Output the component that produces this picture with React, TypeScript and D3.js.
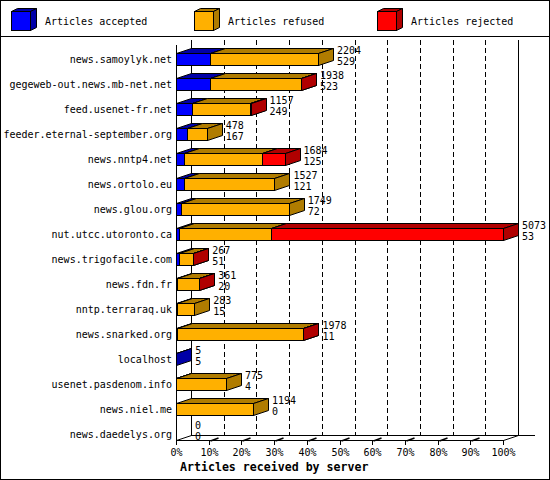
import * as d3 from "d3";

const servers = [
  "news.samoylyk.net",
  "gegeweb-out.news.mb-net.net",
  "feed.usenet-fr.net",
  "feeder.eternal-september.org",
  "news.nntp4.net",
  "news.ortolo.eu",
  "news.glou.org",
  "nut.utcc.utoronto.ca",
  "news.trigofacile.com",
  "news.fdn.fr",
  "nntp.terraraq.uk",
  "news.snarked.org",
  "localhost",
  "usenet.pasdenom.info",
  "news.niel.me",
  "news.daedelys.org",
];
const totals = [2204, 1938, 1157, 478, 1684, 1527, 1749, 5073, 267, 361, 283, 1978, 5, 775, 1194, 0];
const accepted = [529, 523, 249, 167, 125, 121, 72, 53, 51, 20, 15, 11, 5, 4, 0, 0];
const refused = [1675, 1409, 900, 311, 1204, 1406, 1677, 1420, 212, 336, 268, 1962, 0, 771, 1194, 0];
const rejected = [0, 6, 8, 0, 355, 0, 0, 3600, 4, 5, 0, 5, 0, 0, 0, 0];
const seriesNames = ["Articles accepted", "Articles refused", "Articles rejected"];
const pctTicks = [0, 10, 20, 30, 40, 50, 60, 70, 80, 90, 100];

const colors = ["#0000ff", "#ffb000", "#ff0000"];
const darks = ["#0000a8", "#b07c00", "#b00000"];

const W = 550;
const H = 480;
const DX = 15;
const DY = -5;
const FONT = "'DejaVu Sans Mono', 'Liberation Mono', monospace";
const BAR_H = 12;
const FLOOR = 440;
const TOP = 45;

const maxTotal = d3.max(totals) ?? 1;
const x = d3.scaleLinear().domain([0, 100]).range([176, 503]);
const xv = (v: number) => x((v / maxTotal) * 100);
const y = d3.scalePoint<string>().domain(servers).range([59, 434]);

function Box({ x0, x1, top, h, fill, dark, dx, dy }: any) {
  const a = Math.round(x0) + 0.5;
  const b = Math.round(x1) + 0.5;
  const t = Math.round(top) + 0.5;
  const topFace = [[a, t], [a + dx, t + dy], [b + dx, t + dy], [b, t]];
  const side = [[b, t], [b + dx, t + dy], [b + dx, t + h + dy], [b, t + h]];
  return (
    <g stroke="#000" strokeWidth={1}>
      <polygon points={topFace.map((p) => p.join(",")).join(" ")} fill={dark} />
      <polygon points={side.map((p) => p.join(",")).join(" ")} fill={dark} />
      <rect x={a} y={t} width={b - a} height={h} fill={fill} />
    </g>
  );
}

export default function App() {
  const series = [accepted, refused, rejected];
  const legendX = [11, 194, 377];
  const backL = x(0) + DX;
  const backR = x(100) + DX;
  const backTop = TOP - 5;
  const backBot = FLOOR + DY;

  return (
    <svg
      width={W}
      height={H}
      style={{ position: "absolute", left: 0, top: 0, background: "#fff" }}
      fontFamily={FONT}
    >
      <rect x={0.5} y={0.5} width={W - 1} height={H - 1} fill="#fff" stroke="#000" />

      {/* legend */}
      {seriesNames.map((name, i) => (
        <g key={name}>
          <Box x0={legendX[i]} x1={legendX[i] + 19} top={11} h={19} fill={colors[i]} dark={darks[i]} dx={6} dy={-3} />
          <text x={legendX[i] + 34} y={24.5} fontSize={10}>
            {name}
          </text>
        </g>
      ))}
      <line x1={0} x2={W} y1={36.5} y2={36.5} stroke="#000" />

      {/* back gridlines */}
      {pctTicks.slice(1, -1).map((p) => (
        <line
          key={p}
          x1={Math.round(x(p) + DX) + 0.5}
          x2={Math.round(x(p) + DX) + 0.5}
          y1={backTop}
          y2={backBot}
          stroke="#000"
          strokeDasharray="5,3"
        />
      ))}
      <g stroke="#000" fill="none">
        <line x1={Math.round(backL) + 0.5} x2={Math.round(backL) + 0.5} y1={backTop} y2={backBot + 0.5} />
        <line x1={Math.round(backR) + 0.5} x2={Math.round(backR) + 0.5} y1={backTop} y2={backBot + 0.5} />
        <line x1={Math.round(x(0)) + 0.5} x2={Math.round(x(0)) + 0.5} y1={TOP} y2={FLOOR + 5} />
        <line x1={Math.round(backL)} x2={535} y1={backBot + 0.5} y2={backBot + 0.5} />
        <line x1={Math.round(x(0))} x2={Math.round(x(100)) + 0.5} y1={FLOOR + 0.5} y2={FLOOR + 0.5} />
        <line x1={Math.round(x(0)) + 0.5} x2={Math.round(backL) + 0.5} y1={FLOOR + 0.5} y2={backBot + 0.5} />
        <line x1={Math.round(x(100)) + 0.5} x2={Math.round(backR) + 0.5} y1={FLOOR + 0.5} y2={backBot + 0.5} />
      </g>

      {/* ticks */}
      {pctTicks.map((p) => {
        const tx = Math.round(x(p)) + 0.5;
        return (
          <g key={p}>
            <line x1={tx} x2={tx} y1={FLOOR} y2={FLOOR + 5} stroke="#000" />
            {p > 0 && p < 100 && (
              <line x1={tx + 1} x2={tx + 9} y1={FLOOR + 1} y2={FLOOR - 2} stroke="#000" strokeWidth={1.6} />
            )}
            <text x={tx} y={456} fontSize={10} textAnchor="middle">
              {p}%
            </text>
          </g>
        );
      })}
      <text x={180} y={471} fontSize={11.6} fontWeight="bold">
        Articles received by server
      </text>

      {/* bars */}
      {servers.map((s, i) => {
        const cy = y(s) ?? 0;
        const top = cy - BAR_H / 2;
        let acc = 0;
        const end = xv(totals[i]);
        return (
          <g key={s}>
            <text x={172} y={cy + 3.5} fontSize={10} textAnchor="end">
              {s}
            </text>
            {series.map((vals, k) => {
              const v = vals[i];
              const x0 = xv(acc);
              acc += v;
              if (v <= 0) return null;
              return (
                <Box key={k} x0={x0} x1={xv(acc)} top={top} h={BAR_H} fill={colors[k]} dark={darks[k]} dx={DX} dy={DY} />
              );
            })}
            <text x={end + DX + 4} y={cy - 9 + 3.5} fontSize={10}>
              {totals[i]}
            </text>
            <text x={end + DX + 4} y={cy + 2 + 3.5} fontSize={10}>
              {accepted[i]}
            </text>
          </g>
        );
      })}
    </svg>
  );
}
